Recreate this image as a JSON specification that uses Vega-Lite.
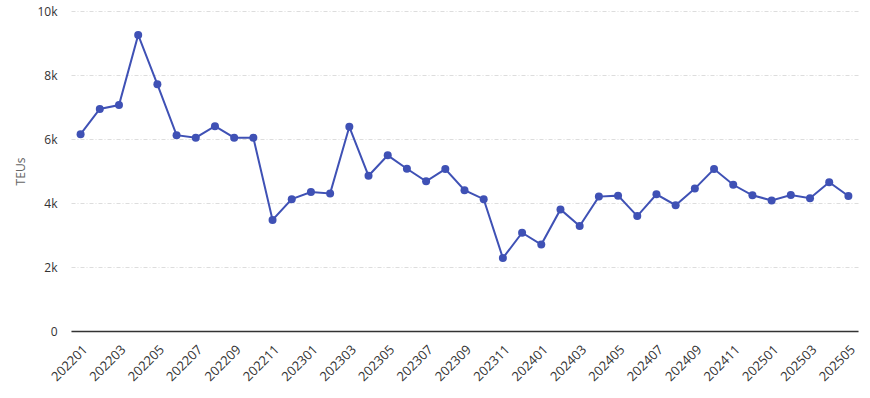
{
  "$schema": "https://vega.github.io/schema/vega-lite/v6.json",
  "autosize": "none",
  "width": 787,
  "height": 320,
  "padding": {"left": 71, "top": 11, "right": 12, "bottom": 67},
  "config": {
    "view": {"stroke": null},
    "font": "Open Sans",
    "axis": {"labelFont": "Open Sans", "titleFont": "Open Sans"}
  },
  "data": {"values": [
    {"month": "202201", "teu": 6150},
    {"month": "202202", "teu": 6940},
    {"month": "202203", "teu": 7060},
    {"month": "202204", "teu": 9250},
    {"month": "202205", "teu": 7710},
    {"month": "202206", "teu": 6120},
    {"month": "202207", "teu": 6040},
    {"month": "202208", "teu": 6400},
    {"month": "202209", "teu": 6040},
    {"month": "202210", "teu": 6040},
    {"month": "202211", "teu": 3470},
    {"month": "202212", "teu": 4120},
    {"month": "202301", "teu": 4340},
    {"month": "202302", "teu": 4300},
    {"month": "202303", "teu": 6380},
    {"month": "202304", "teu": 4850},
    {"month": "202305", "teu": 5490},
    {"month": "202306", "teu": 5070},
    {"month": "202307", "teu": 4680},
    {"month": "202308", "teu": 5060},
    {"month": "202309", "teu": 4400},
    {"month": "202310", "teu": 4120},
    {"month": "202311", "teu": 2280},
    {"month": "202312", "teu": 3070},
    {"month": "202401", "teu": 2700},
    {"month": "202402", "teu": 3800},
    {"month": "202403", "teu": 3280},
    {"month": "202404", "teu": 4200},
    {"month": "202405", "teu": 4230},
    {"month": "202406", "teu": 3590},
    {"month": "202407", "teu": 4270},
    {"month": "202408", "teu": 3930},
    {"month": "202409", "teu": 4450},
    {"month": "202410", "teu": 5060},
    {"month": "202411", "teu": 4570},
    {"month": "202412", "teu": 4240},
    {"month": "202501", "teu": 4080},
    {"month": "202502", "teu": 4250},
    {"month": "202503", "teu": 4150},
    {"month": "202504", "teu": 4650},
    {"month": "202505", "teu": 4220}
  ]},
  "mark": {"type": "line", "color": "#3F51B5", "strokeWidth": 2, "point": {"filled": true, "size": 64, "color": "#3F51B5", "opacity": 1}},
  "encoding": {
    "x": {
      "field": "month", "type": "ordinal", "sort": null,
      "scale": {"type": "point", "padding": 0.5},
      "axis": {
        "title": null,
        "values": ["202201","202203","202205","202207","202209","202211","202301","202303","202305","202307","202309","202311","202401","202403","202405","202407","202409","202411","202501","202503","202505"],
        "labelAngle": -45, "labelFontSize": 13, "labelColor": "#333333",
        "ticks": false, "domainColor": "#333333", "domainWidth": 1.5, "labelPadding": 12, "grid": false
      }
    },
    "y": {
      "field": "teu", "type": "quantitative",
      "scale": {"domain": [0, 10000], "nice": false},
      "axis": {
        "title": "TEUs", "titleColor": "#666666", "titleFontWeight": "normal", "titleFontSize": 12,
        "titleX": -44, "titleY": 160, "titleAlign": "center", "titleBaseline": "bottom", "titleAngle": -90,
        "values": [0, 2000, 4000, 6000, 8000, 10000],
        "labelExpr": "datum.value == 0 ? '0' : format(datum.value / 1000, 'd') + 'k'",
        "labelFontSize": 12, "labelColor": "#333333", "labelPadding": 14,
        "ticks": false, "domain": false,
        "gridColor": "#dddddd", "gridDash": [4, 2, 1, 2], "gridWidth": 1
      }
    }
  }
}
